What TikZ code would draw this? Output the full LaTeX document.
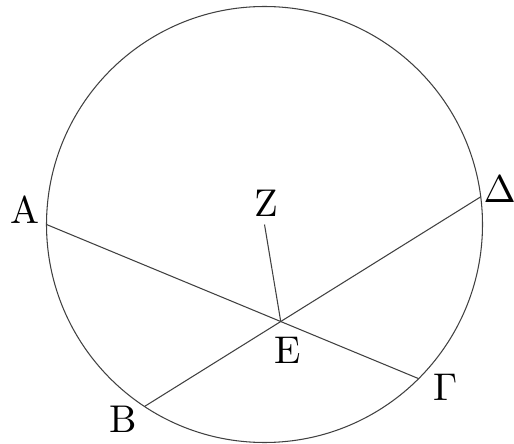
\documentclass[tikz,border=0pt]{standalone}
\usepackage{amsmath,amssymb}
\usepackage{tikz}
\usetikzlibrary{intersections}

\tikzset{chord/.style={black!75,line width=0.6pt},
  lbl/.style={scale=2.2,transform shape,inner sep=0pt}}

\begin{document}
\begin{tikzpicture}
  \useasboundingbox (0,0) rectangle (10.28,8.86);
  \coordinate (Z) at (5.29,4.37);
  \coordinate (A) at ([shift={(180:4.36)}]Z);
  \coordinate (D) at ([shift={(7.3:4.36)}]Z);
  \coordinate (B) at ([shift={(236.6:4.36)}]Z);
  \coordinate (G) at ([shift={(315:4.36)}]Z);
  \coordinate (E) at (intersection of A--G and B--D);
  \draw[chord] (Z) circle (4.36);
  \draw[chord] (A) -- (G);
  \draw[chord] (B) -- (D);
  \draw[chord] (Z) -- (E);
  \path (A) ++(-0.44,0.30) node[lbl] (lA) {A};
  \path (D) ++(0.38,0.15) node[lbl] (lD) {$\Delta$};
  \path (Z) ++(0.03,0.43) node[lbl] (lZ) {Z};
  \path (E) ++(0.14,-0.57) node[lbl] (lE) {E};
  \path (B) ++(-0.42,-0.26) node[lbl] (lB) {B};
  \path (G) ++(0.53,-0.18) node[lbl] (lG) {$\Gamma$};
\end{tikzpicture}
\end{document}
